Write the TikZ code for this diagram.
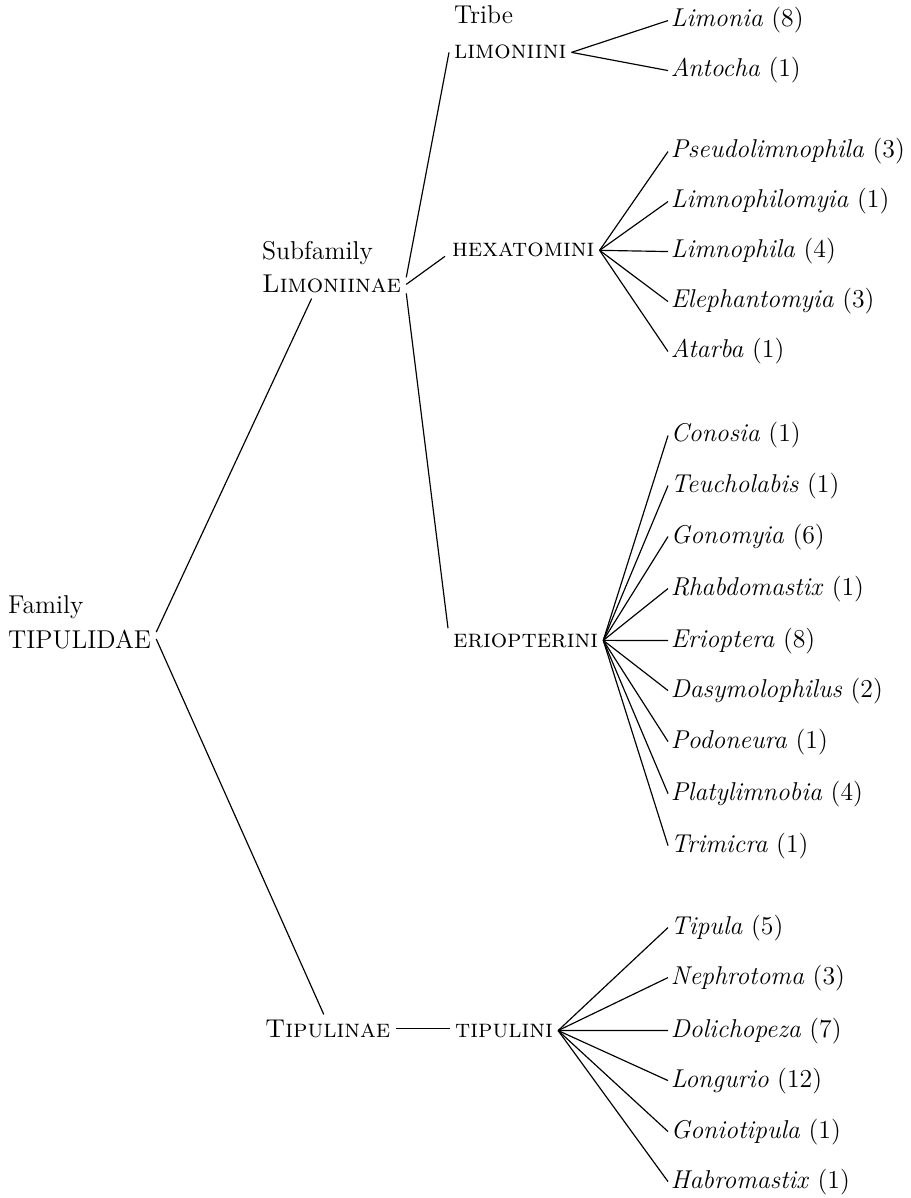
\documentclass[tikz,border=0pt]{standalone}
\usetikzlibrary{calc}

\begin{document}
\begin{tikzpicture}[x=0.015cm,y=-0.015cm,
  every node/.style={font=\fontsize{11}{13}\selectfont},
  taxon/.style={anchor=base west,inner sep=2pt},
  genus/.style={anchor=base west,inner sep=1pt},
  branch/.style={line width=0.5pt}]
\useasboundingbox (0,0) rectangle (910,1198);
% family
\node[taxon] (famlbl) at (3,613) {Family};
\node[taxon] (fam) at (3,648) {TIPULIDAE};
% subfamilies
\node[taxon] (sublbl) at (257,260) {Subfamily};
\node[taxon] (lim) at (257,293) {\textsc{Limoniinae}};
\node[taxon] (tipa) at (260,1037) {\textsc{Tipulinae}};
% tribes
\node[taxon] (tribelbl) at (449,24) {Tribe};
\node[taxon] (limi) at (449,59) {\textsc{limoniini}};
\node[taxon] (hexa) at (447,257) {\textsc{hexatomini}};
\node[taxon] (erio) at (448,647) {\textsc{eriopterini}};
\node[taxon] (tipi) at (450,1037) {\textsc{tipulini}};

% genera of limoniini
\node[genus] (limonia) at (668,27) {\textit{Limonia} (8)};
\node[genus] (antocha) at (668,77) {\textit{Antocha} (1)};
% genera of hexatomini
\node[genus] (pseudo) at (668,158) {\textit{Pseudolimnophila} (3)};
\node[genus] (limnomyia) at (668,208) {\textit{Limnophilomyia} (1)};
\node[genus] (limnophila) at (668,258) {\textit{Limnophila} (4)};
\node[genus] (eleph) at (668,308) {\textit{Elephantomyia} (3)};
\node[genus] (atarba) at (668,358) {\textit{Atarba} (1)};
% genera of eriopterini
\node[genus] (conosia) at (668,442) {\textit{Conosia} (1)};
\node[genus] (teucho) at (668,492) {\textit{Teucholabis} (1)};
\node[genus] (gonomyia) at (668,543) {\textit{Gonomyia} (6)};
\node[genus] (rhabdo) at (668,595) {\textit{Rhabdomastix} (1)};
\node[genus] (erioptera) at (668,647) {\textit{Erioptera} (8)};
\node[genus] (dasymo) at (668,697) {\textit{Dasymolophilus} (2)};
\node[genus] (podo) at (668,748) {\textit{Podoneura} (1)};
\node[genus] (platy) at (668,800) {\textit{Platylimnobia} (4)};
\node[genus] (trimicra) at (668,852) {\textit{Trimicra} (1)};
% genera of tipulini
\node[genus] (tipula) at (668,934) {\textit{Tipula} (5)};
\node[genus] (nephro) at (668,984) {\textit{Nephrotoma} (3)};
\node[genus] (dolicho) at (668,1037) {\textit{Dolichopeza} (7)};
\node[genus] (longurio) at (668,1087) {\textit{Longurio} (12)};
\node[genus] (gonio) at (668,1138) {\textit{Goniotipula} (1)};
\node[genus] (habro) at (668,1188) {\textit{Habromastix} (1)};

% family to subfamilies
\draw[branch] ($(fam.east)+(0,-7)$) -- ($(lim.south)+(-20,0)$);
\draw[branch] (fam.east) -- ($(tipa.north)+(-4,0)$);
% subfamilies to tribes
\draw[branch] ($(lim.east)+(0,-7)$) -- (limi.west);
\draw[branch] (lim.east) -- ($(hexa.west)+(-2,6)$);
\draw[branch] ($(lim.east)+(0,9)$) -- (erio.north west);
\draw[branch] (tipa.east) -- (tipa.east -| tipi.west);
% limoniini
\draw[branch] (limi.east) -- (limonia.west);
\draw[branch] (limi.east) -- (antocha.west);
% hexatomini
\draw[branch] (hexa.east) -- (pseudo.west);
\draw[branch] (hexa.east) -- (limnomyia.west);
\draw[branch] (hexa.east) -- (limnophila.west);
\draw[branch] (hexa.east) -- (eleph.west);
\draw[branch] (hexa.east) -- (atarba.west);
% eriopterini
\draw[branch] (erio.east) -- (conosia.west);
\draw[branch] (erio.east) -- (teucho.west);
\draw[branch] (erio.east) -- (gonomyia.west);
\draw[branch] (erio.east) -- (rhabdo.west);
\draw[branch] (erio.east) -- (erioptera.west);
\draw[branch] (erio.east) -- (dasymo.west);
\draw[branch] (erio.east) -- (podo.west);
\draw[branch] (erio.east) -- (platy.west);
\draw[branch] (erio.east) -- (trimicra.west);
% tipulini
\draw[branch] (tipi.east) -- (tipula.west);
\draw[branch] (tipi.east) -- (nephro.west);
\draw[branch] (tipi.east) -- (dolicho.west);
\draw[branch] (tipi.east) -- (longurio.west);
\draw[branch] (tipi.east) -- (gonio.west);
\draw[branch] (tipi.east) -- (habro.west);
\end{tikzpicture}
\end{document}
